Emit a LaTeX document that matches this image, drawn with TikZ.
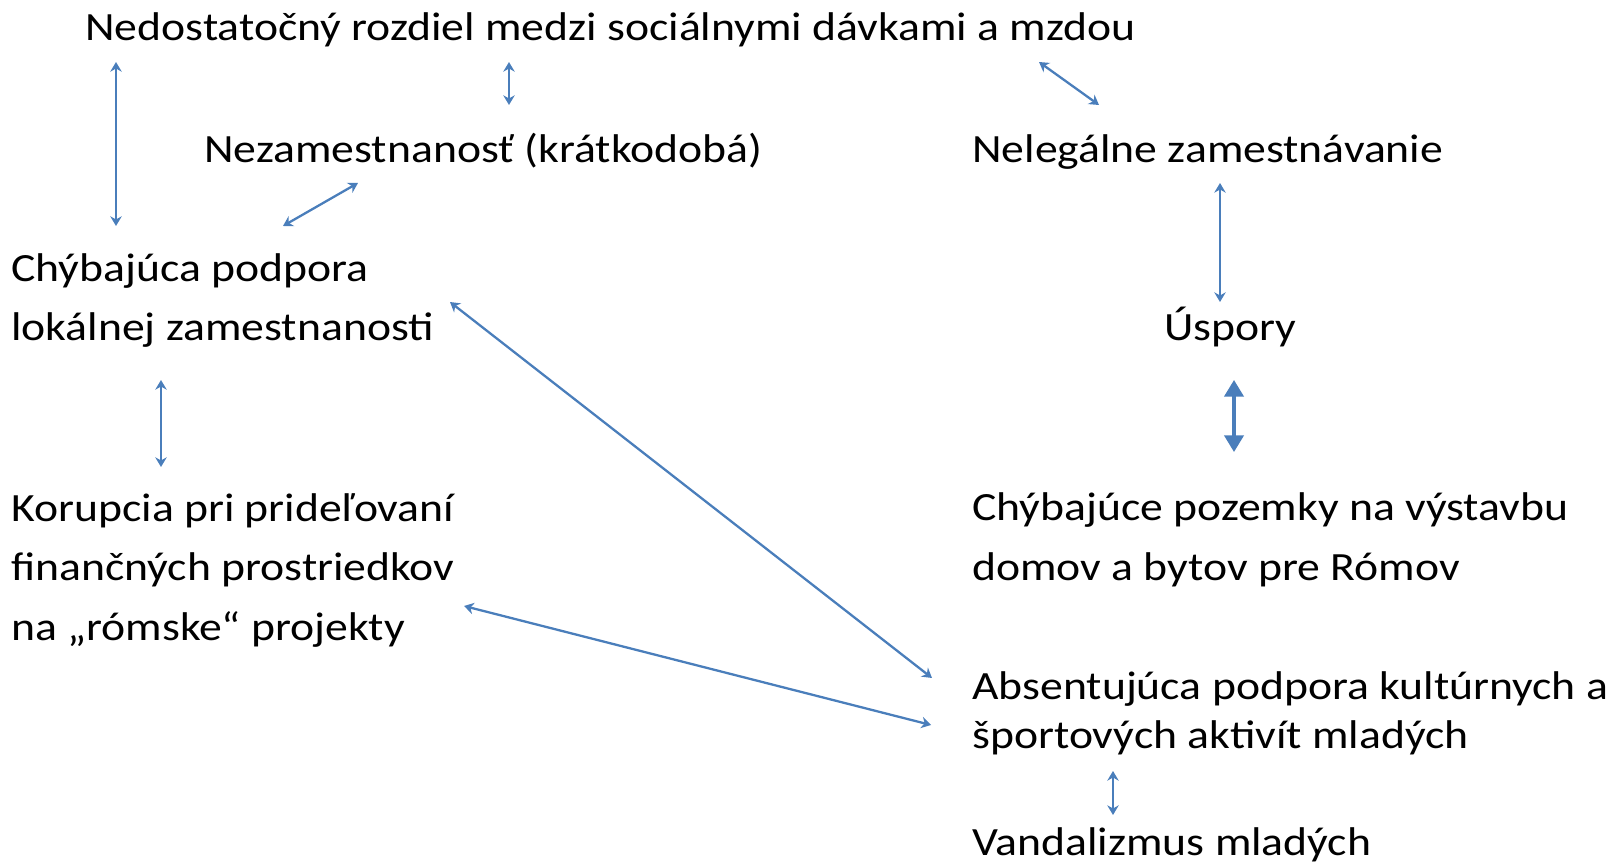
\documentclass[tikz,border=0pt]{standalone}
\usepackage{fontspec}
\setmainfont{Carlito}[FakeStretch=1.14]
\usepackage{tikz}
\usetikzlibrary{arrows.meta}
\definecolor{linkblue}{RGB}{74,126,187}
\tikzset{
  lbl/.style={anchor=base west, inner sep=0pt, align=left, font=\fontsize{22.8}{33.6}\selectfont},
  link/.style={{Stealth[length=5.5pt,width=6.5pt]}-{Stealth[length=5.5pt,width=6.5pt]}, line width=1.3pt, linkblue},
  biglink/.style={{Triangle[length=9.5pt,width=11pt]}-{Triangle[length=9.5pt,width=11pt]}, line width=1.8pt, linkblue}
}

\begin{document}
\begin{tikzpicture}
\useasboundingbox (0,0) rectangle (32.36,-17.3);
% Problem labels (anchored at the baseline of the last line)
\node[lbl] (nedost) at (1.70,-0.82) {Nedostatočný rozdiel medzi sociálnymi dávkami a mzdou};
\node[lbl] (nezam) at (4.08,-3.26) {Nezamestnanosť (krátkodobá)};
\node[lbl] (nelegal) at (19.44,-3.26) {Nelegálne zamestnávanie};
\node[lbl] (podpora) at (0.22,-6.82) {Chýbajúca podpora\\lokálnej zamestnanosti};
\node[lbl] (uspory) at (23.28,-6.82) {Úspory};
\node[lbl] (korupcia) at (0.22,-12.8) {Korupcia pri prideľovaní\\finančných prostriedkov\\na „rómske“ projekty};
\node[lbl] (pozemky) at (19.44,-11.6) {Chýbajúce pozemky na výstavbu\\domov a bytov pre Rómov};
\node[lbl, font=\fontsize{22.8}{27.6}\selectfont] (absent) at (19.44,-14.96) {Absentujúca podpora kultúrnych a\\športových aktivít mladých};
\node[lbl] (vandal) at (19.44,-17.1) {Vandalizmus mladých};
% Arrow end points
\coordinate (nedost-l) at (2.32,-1.24);   \coordinate (podpora-t) at (2.32,-4.52);
\coordinate (nedost-m) at (10.18,-1.24);  \coordinate (nezam-t) at (10.18,-2.10);
\coordinate (nedost-r) at (20.78,-1.24);  \coordinate (nelegal-t) at (21.98,-2.10);
\coordinate (nezam-b) at (7.16,-3.66);    \coordinate (podpora-r) at (5.66,-4.52);
\coordinate (nelegal-b) at (24.4,-3.66);  \coordinate (uspory-t) at (24.4,-6.04);
\coordinate (uspory-b) at (24.68,-7.6);   \coordinate (pozemky-t) at (24.68,-9.04);
\coordinate (podpora-b) at (3.22,-7.6);   \coordinate (korupcia-t) at (3.22,-9.34);
\coordinate (podpora-e) at (9.0,-6.04);   \coordinate (absent-a) at (18.64,-13.56);
\coordinate (korupcia-e) at (9.28,-12.12); \coordinate (absent-b) at (18.62,-14.5);
\coordinate (absent-d) at (22.26,-15.42); \coordinate (vandal-t) at (22.26,-16.3);
% Links
\foreach \a/\b in {nedost-l/podpora-t, nedost-m/nezam-t, nedost-r/nelegal-t, nezam-b/podpora-r,
  nelegal-b/uspory-t, podpora-b/korupcia-t, podpora-e/absent-a, korupcia-e/absent-b, absent-d/vandal-t} {
  \draw[link] (\a) -- (\b);
}
\draw[biglink] (uspory-b) -- (pozemky-t);
\end{tikzpicture}
\end{document}
